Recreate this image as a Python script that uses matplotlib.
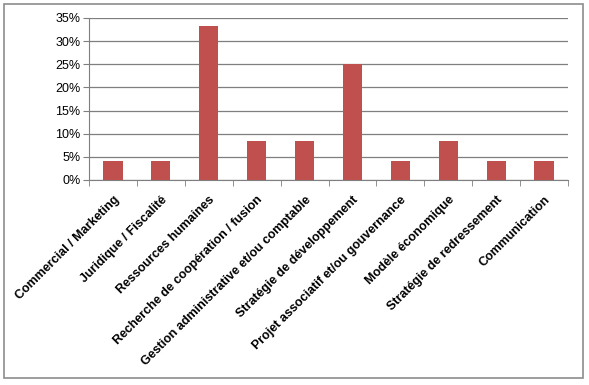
import matplotlib
matplotlib.use("Agg")
import matplotlib.pyplot as plt
from matplotlib.ticker import PercentFormatter
from matplotlib.patches import Rectangle

categories = ["Commercial / Marketing", "Juridique / Fiscalité", "Ressources humaines",
              "Recherche de coopération / fusion", "Gestion administrative et/ou comptable",
              "Stratégie de développement", "Projet associatif et/ou gouvernance",
              "Modèle économique", "Stratégie de redressement", "Communication"]
values = [4.17, 4.17, 33.33, 8.33, 8.33, 25.0, 4.17, 8.33, 4.17, 4.17]
yticks = [0, 5, 10, 15, 20, 25, 30, 35]

plt.rcParams['font.family'] = ['Liberation Sans', 'DejaVu Sans']

fig = plt.figure(figsize=(5.89, 3.85), dpi=100)
fig.patches.append(Rectangle((4/589, 7/385), 579/589, 374/385, transform=fig.transFigure,
                             fill=False, edgecolor='#8c8c8c', linewidth=1.2))
ax = fig.add_axes([89/589, 1 - 180/385, 479/589, 162/385])

x = list(range(len(categories)))
ax.bar(x, values, width=0.4, color='#c0504d', zorder=3)
ax.set_xlim(-0.5, len(categories) - 0.5)
ax.set_ylim(0, 35)
ax.set_yticks(yticks)
ax.yaxis.set_major_formatter(PercentFormatter(decimals=0))
ax.yaxis.grid(True, color='#7f7f7f', linewidth=0.9, zorder=0)

ax.set_xticks(x)
ax.set_xticklabels(categories, rotation=45, ha='right', rotation_mode='anchor',
                   fontsize=9, fontweight='bold')
ax.set_xticks([i - 0.5 for i in range(len(categories) + 1)], minor=True)
ax.tick_params(axis='x', which='major', length=0, pad=10)
ax.tick_params(axis='x', which='minor', length=4, color='#7f7f7f', direction='out')
ax.tick_params(axis='y', length=4, color='#7f7f7f', labelsize=9, pad=2)

for s in ['top', 'right']:
    ax.spines[s].set_visible(False)
for s in ['left', 'bottom']:
    ax.spines[s].set_color('#7f7f7f')

fig.savefig("out.png", dpi=100)
